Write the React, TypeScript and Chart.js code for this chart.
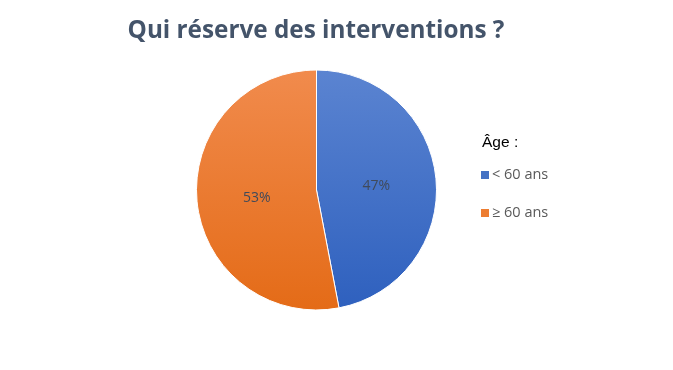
import React, { useEffect, useRef } from "react";
import { Chart, registerables } from "chart.js";

Chart.register(...registerables);

const title = "Qui réserve des interventions ?";
const legendTitle = "Âge :";
const categories = ["< 60 ans", "≥ 60 ans"];
const values = [47, 53];
const topColors = ["#5B84D1", "#F18B4D"];
const bottomColors = ["#2E60BE", "#E46B17"];
const markerColors = ["#4472C4", "#ED7D31"];

export default function App() {
  const ref = useRef<HTMLCanvasElement | null>(null);
  useEffect(() => {
    document.body.style.margin = "0";
    const canvas = ref.current!;
    const overlay = {
      id: "overlay",
      afterDraw(chart: any) {
        const ctx = chart.ctx;
        ctx.save();
        // title
        ctx.fillStyle = "#44546A";
        ctx.font = "bold 24.3px 'Open Sans', 'Noto Sans', sans-serif";
        ctx.textAlign = "center";
        ctx.textBaseline = "middle";
        ctx.fillText(title, 316, 31);
        // slice labels
        const meta = chart.getDatasetMeta(0);
        const total = values.reduce((a, b) => a + b, 0);
        ctx.font = "14px 'Open Sans', 'Noto Sans', sans-serif";
        ctx.fillStyle = "#404A5A";
        meta.data.forEach((arc: any, i: number) => {
          const p = arc.getProps(["x", "y", "startAngle", "endAngle", "outerRadius"], true);
          const mid = (p.startAngle + p.endAngle) / 2;
          const r = p.outerRadius * 0.5;
          ctx.fillText(Math.round((values[i] / total) * 100) + "%", p.x + Math.cos(mid) * r, p.y + Math.sin(mid) * r + 2);
        });
        // legend
        ctx.textAlign = "left";
        ctx.fillStyle = "#000000";
        ctx.font = "15.5px 'Liberation Sans', Arial, sans-serif";
        ctx.fillText(legendTitle, 482, 143);
        ctx.font = "14.5px 'Open Sans', 'Noto Sans', sans-serif";
        categories.forEach((c, i) => {
          const y = 175 + i * 38;
          ctx.fillStyle = markerColors[i];
          ctx.fillRect(481, y - 4, 8, 8);
          ctx.fillStyle = "#595959";
          ctx.fillText(c, 492, y);
        });
        ctx.restore();
      },
    };
    const chart = new Chart(canvas, {
      type: "pie",
      data: {
        labels: categories,
        datasets: [
          {
            data: values,
            borderColor: "#FFFFFF",
            borderWidth: 1,
            backgroundColor: (c: any) => {
              const ch = c.chart;
              const area = ch.chartArea;
              if (!area) return markerColors[c.dataIndex];
              const g = ch.ctx.createLinearGradient(0, area.top, 0, area.bottom);
              g.addColorStop(0, topColors[c.dataIndex]);
              g.addColorStop(1, bottomColors[c.dataIndex]);
              return g;
            },
          },
        ],
      },
      options: {
        responsive: false,
        animation: false,
        layout: { padding: { left: 196, right: 236, top: 69, bottom: 59 } },
        plugins: {
          legend: { display: false },
          title: { display: false },
          tooltip: { enabled: false },
        },
      },
      plugins: [overlay],
    });
    return () => chart.destroy();
  }, []);
  return (
    <div style={{ position: "relative", width: 673, height: 370, background: "#fff" }}>
      <canvas ref={ref} width={673} height={370} style={{ display: "block" }} />
    </div>
  );
}
